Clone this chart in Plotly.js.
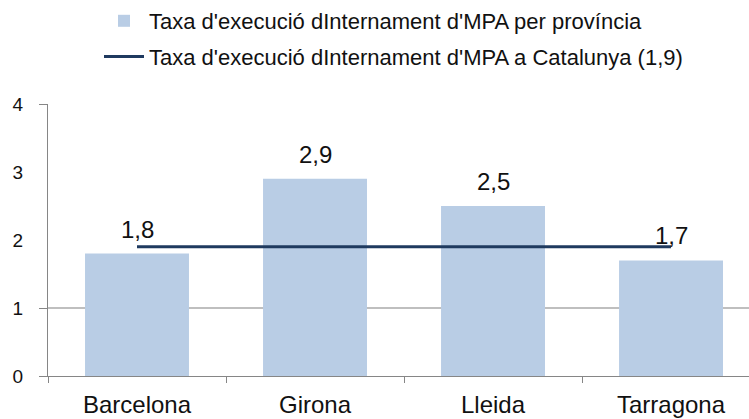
<!DOCTYPE html>
<html>
<head>
<meta charset="utf-8">
<script src="https://cdn.plot.ly/plotly-3.0.1.min.js"></script>
<style>html,body{margin:0;padding:0;background:#fff;}#chart{width:749px;height:419px;}</style>
</head>
<body>
<div id="chart"></div>
<script>
const provinces = ["Barcelona", "Girona", "Lleida", "Tarragona"];
const rateByProvince = [1.8, 2.9, 2.5, 1.7];
const rateCatalonia = [1.9, 1.9, 1.9, 1.9];
const barName = "Taxa d'execució dInternament d'MPA per província";
const lineName = "Taxa d'execució dInternament d'MPA a Catalunya (1,9)";
const yTicks = [0, 1, 2, 3, 4];
const gridTicks = [0, 1, 4];

const fontFam = "Liberation Sans, Arial, sans-serif";
const fmt = v => v.toFixed(1).replace('.', ',');

const traces = [
  {
    type: 'bar', x: provinces, y: rateByProvince, name: barName,
    marker: {color: '#b9cde5'}, hoverinfo: 'none', legendgroup: 'a'
  },
  {
    type: 'scatter', mode: 'lines', x: provinces, y: rateCatalonia, name: lineName,
    yaxis: 'y2', legendgroup: 'b',
    line: {color: '#1f3a5f', width: 3}, hoverinfo: 'none'
  }
];

const annotations = provinces.map((p, i) => ({
  x: p, y: rateByProvince[i], xref: 'x', yref: 'y',
  text: fmt(rateByProvince[i]), showarrow: false,
  yanchor: 'bottom', yshift: 9,
  font: {family: fontFam, size: 24, color: '#111'}
}));

const layout = {
  width: 749, height: 419,
  margin: {l: 48, r: 0, t: 104, b: 43, autoexpand: false},
  paper_bgcolor: '#fff', plot_bgcolor: '#fff',
  font: {family: fontFam, color: '#111'},
  bargap: 0.416,
  showlegend: true,
  legend: {
    x: 99 / 749, xref: 'container', yref: 'container',
    y: 1.005, yanchor: 'top', xanchor: 'left',
    font: {family: fontFam, size: 22, color: '#111'},
    bgcolor: 'rgba(0,0,0,0)', traceorder: 'grouped', tracegroupgap: 4, itemwidth: 40
  },
  xaxis: {
    type: 'category', range: [-0.5, 3.438],
    showline: true, linecolor: '#868686', linewidth: 1,
    ticks: 'outside', tickson: 'boundaries', ticklen: 6, tickcolor: '#868686',
    tickfont: {family: fontFam, size: 24, color: '#111'}, tickangle: 0,
    ticklabelstandoff: 7,
    showgrid: false, zeroline: false, fixedrange: true
  },
  yaxis: {
    range: [0, 4], tickvals: gridTicks,
    showticklabels: false, ticks: 'outside', ticklen: 8, tickcolor: '#868686',
    showgrid: true, gridcolor: '#bfbfbf', gridwidth: 2,
    zeroline: false, showline: false, fixedrange: true
  },
  yaxis2: {
    overlaying: 'y', side: 'left', range: [0, 4], tickvals: yTicks, ticktext: yTicks.map(String),
    showline: true, linecolor: '#868686', linewidth: 1,
    ticks: '', showgrid: false, zeroline: false,
    tickfont: {family: fontFam, size: 19, color: '#111'},
    ticklabelstandoff: 20, fixedrange: true
  },
  annotations: annotations
};

Plotly.newPlot('chart', traces, layout, {displayModeBar: false, staticPlot: true});
</script>
</body>
</html>
